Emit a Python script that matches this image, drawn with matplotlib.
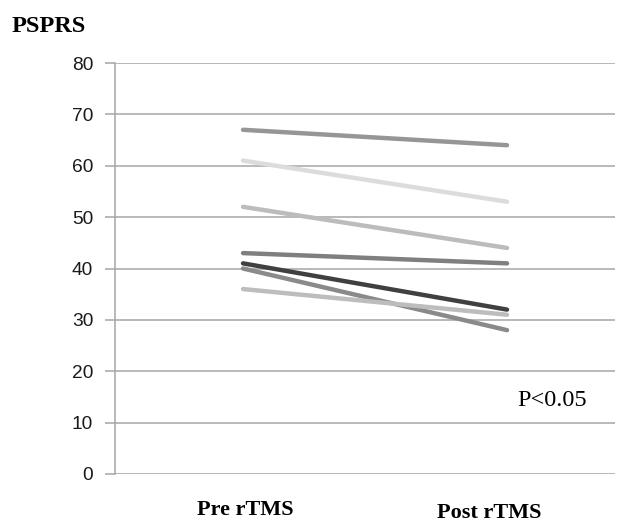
import matplotlib
matplotlib.use("Agg")
import matplotlib.pyplot as plt

pre = [67, 61, 52, 43, 41, 40, 36]
post = [64, 53, 44, 41, 32, 28, 31]
colors = ["#969696", "#dcdcdc", "#bcbcbc", "#7f7f7f", "#404040", "#8a8a8a", "#bdbdbd"]
categories = ["Pre rTMS", "Post rTMS"]
yticks = [0, 10, 20, 30, 40, 50, 60, 70, 80]

fig = plt.figure(figsize=(6.35, 5.23), dpi=100)
ax = fig.add_axes([115/635, 1-474/523, 500/635, 411/523])

ax.set_ylim(0, 80)
ax.set_xlim(-0.485, 1.409)
ax.set_yticks(yticks)
ax.yaxis.grid(True, color="#a6a6a6", linewidth=1.1)
ax.set_axisbelow(True)
for s in ["top", "right", "bottom"]:
    ax.spines[s].set_visible(False)
ax.spines["left"].set_color("#a6a6a6")
ax.spines["left"].set_linewidth(1.1)
ax.set_xticks([])
ax.tick_params(axis="y", length=7.2, color="#a6a6a6", width=1.1, pad=8.5)
for lab in ax.get_yticklabels():
    lab.set_fontfamily("Liberation Sans")
    lab.set_fontsize(13.8)
    lab.set_color("#1a1a1a")

for a, b, c in zip(pre, post, colors):
    ax.plot([0, 1], [a, b], color=c, linewidth=3.2, solid_capstyle="round", zorder=3)

ax.text(1.17, 14.4, "P<0.05", fontfamily="Liberation Serif", fontsize=17.5,
        ha="center", va="center")

fig.text(49/635, 1-26/523, "PSPRS", fontfamily="Liberation Serif", fontweight="bold",
         fontsize=17.5, ha="center", va="center")
fig.text(245/635, 1-510/523, categories[0], fontfamily="Liberation Serif", fontweight="bold",
         fontsize=16, ha="center", va="center")
fig.text(489/635, 1-513/523, categories[1], fontfamily="Liberation Serif", fontweight="bold",
         fontsize=16, ha="center", va="center")

fig.savefig("out.png", dpi=100)
